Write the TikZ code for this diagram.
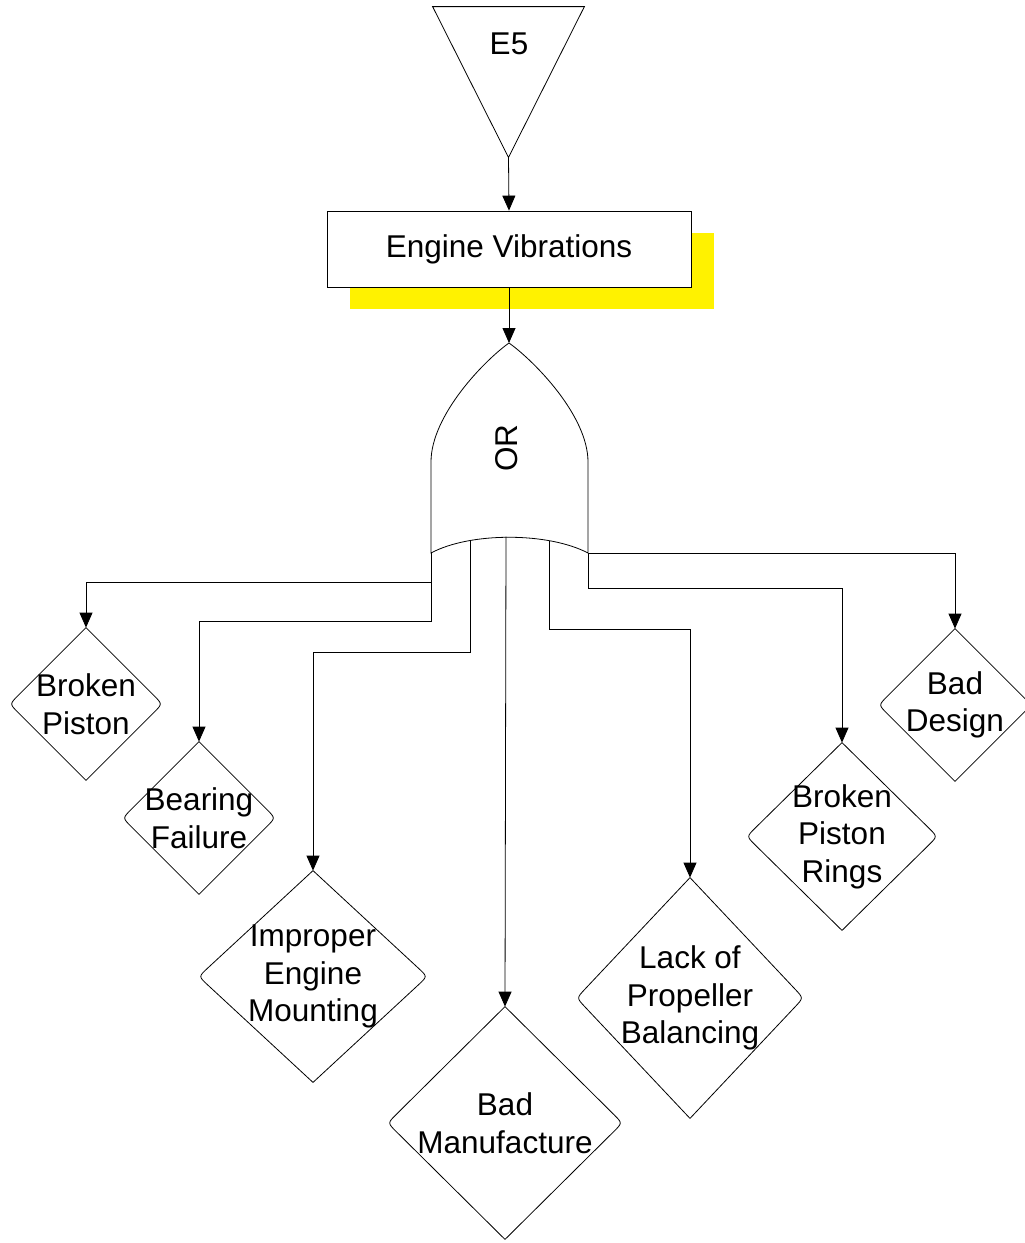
\documentclass[tikz,border=0pt]{standalone}
\usepackage{fontspec}
\setmainfont{Liberation Sans}
\usetikzlibrary{arrows.meta,shapes.geometric,calc}

% diamond outline with sharp top/bottom and rounded side corners
\newcommand\eventdiamond[1]{%
  \draw[fill=white] (#1.north)
    -- ($(#1.east)!12pt!(#1.north)$) .. controls (#1.east) .. ($(#1.east)!12pt!(#1.south)$)
    -- (#1.south)
    -- ($(#1.west)!12pt!(#1.south)$) .. controls (#1.west) .. ($(#1.west)!12pt!(#1.north)$)
    -- cycle;}

\begin{document}
\begin{tikzpicture}[x=1pt,y=-1pt,line width=0.8pt,
  lbl/.style={font=\fontsize{31.5}{37.5}\selectfont, align=center, inner sep=0pt},
  link/.style={-{Triangle[length=15pt,width=13pt]}},
  dmd/.style={diamond, draw=none, inner sep=0pt},
]
\useasboundingbox (0,0) rectangle (1025,1243);

% transfer triangle
\node[rectangle, draw=none, inner sep=0pt, minimum width=151pt, minimum height=150pt] (e5) at (508.5,82) {};
\draw (e5.north west) -- (e5.north east) -- (e5.south) -- cycle;
\node[lbl] (e5txt) at (509,44) {E5};

% top event with offset highlight
\fill[yellow] (350,233) rectangle (714,309);
\node[lbl, draw, fill=white, minimum width=364pt, minimum height=76pt] (ev) at (509,249) {Engine Vibrations};

% OR gate
\coordinate (gtop) at (509,343);
\draw[fill=white] (gtop) .. controls (485,360) and (431,415) .. (431,462) -- (431,553)
  .. controls (470,532) and (548,532) .. (588,553) -- (588,462)
  .. controls (588,415) and (533,360) .. (gtop) -- cycle;
\node[lbl, rotate=90] (gate) at (507,448) {OR};

% gate output ports
\coordinate (pA) at (431,553);
\coordinate (pB) at (470,540.5);
\coordinate (pC) at (506,536.5);
\coordinate (pD) at (549,540.5);
\coordinate (pE) at (588,553);

% basic events
\node[dmd, minimum width=152pt, minimum height=152pt] (bp) at (86,704) {};
\node[dmd, minimum width=152pt, minimum height=152pt] (bf) at (199,818) {};
\node[dmd, minimum width=228pt, minimum height=211pt] (iem) at (313,976.5) {};
\node[dmd, minimum width=234pt, minimum height=232pt] (bm) at (505,1123) {};
\node[dmd, minimum width=226pt, minimum height=240pt] (lpb) at (690,998) {};
\node[dmd, minimum width=190pt, minimum height=187pt] (bpr) at (842,836.5) {};
\node[dmd, minimum width=152pt, minimum height=152pt] (bd) at (955,705) {};
\foreach \n in {bp,bf,iem,bm,lpb,bpr,bd} {\eventdiamond{\n}}

\node[lbl] (bpt) at (bp) {Broken\\Piston};
\node[lbl] (bft) at (bf) {Bearing\\Failure};
\node[lbl] (iemt) at (iem) {Improper\\Engine\\Mounting};
\node[lbl] (bmt) at (bm) {Bad\\Manufacture};
\node[lbl] (lpbt) at (lpb) {Lack of\\Propeller\\Balancing};
\node[lbl] (bprt) at (bpr) {Broken\\Piston\\Rings};
\node[lbl] (bdt) at (bd) {Bad\\Design};

% connectors
\draw[link] (e5.south) -- (ev.north);
\draw[link] (ev.south) -- (gtop);

\coordinate (kA1) at (431,582);
\coordinate (kA2) at (431,621);
\coordinate (kB) at (470,652);
\coordinate (kD) at (549,629);
\coordinate (kE) at (588,588);

\draw[link] (pA) -- (kA1) -| (bp.north);
\draw[link] (pA) -- (kA2) -| (bf.north);
\draw[link] (pB) -- (kB) -| (iem.north);
\draw[link] (pC) -- (bm.north);
\draw[link] (pD) -- (kD) -| (lpb.north);
\draw[link] (pE) -- (kE) -| (bpr.north);
\draw[link] (pE) -| (bd.north);
\end{tikzpicture}
\end{document}
